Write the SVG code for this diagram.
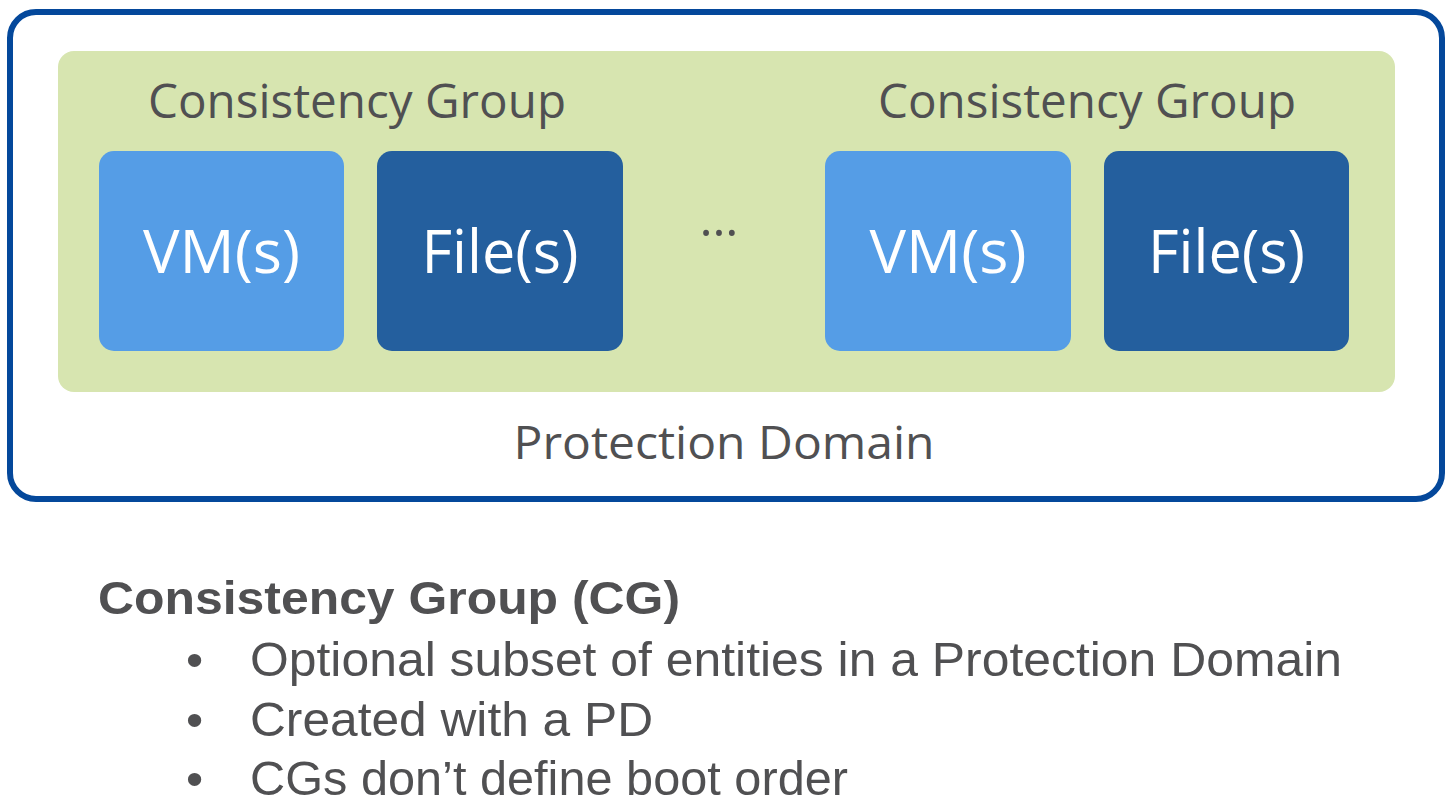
<svg xmlns="http://www.w3.org/2000/svg" width="1455" height="808" viewBox="0 0 1455 808">
<style>
.lbl{font-family:"Open Sans","Noto Sans","DejaVu Sans",sans-serif;fill:#505052}
.box{font-family:"Open Sans","Noto Sans","DejaVu Sans",sans-serif;fill:#ffffff;font-size:60px}
.vm{fill:#559DE6}
.file{fill:#245F9E}
.txt{font-family:"Liberation Sans",Arial,sans-serif;fill:#505052}
</style>
<rect width="1455" height="808" fill="#ffffff"/>
<g id="protection-domain">
<rect x="10" y="12" width="1432" height="487" rx="26" fill="#ffffff" stroke="#04489B" stroke-width="6"/>
<text class="lbl" x="724" y="459" font-size="46" text-anchor="middle" textLength="421" lengthAdjust="spacingAndGlyphs">Protection Domain</text>
</g>
<g id="cg-container">
<rect x="58" y="51" width="1337" height="341" rx="16" fill="#D7E5B0"/>
</g>
<g id="cg1">
<text class="lbl" x="148" y="118" font-size="48" textLength="418" lengthAdjust="spacingAndGlyphs">Consistency Group</text>
</g>
<g id="vm1">
<rect class="vm" x="99" y="151" width="245" height="200" rx="15"/>
<text class="box" x="221.5" y="273" text-anchor="middle" textLength="157" lengthAdjust="spacingAndGlyphs">VM(s)</text>
</g>
<g id="file1">
<rect class="file" x="377" y="151" width="246" height="200" rx="15"/>
<text class="box" x="500" y="273" text-anchor="middle" textLength="157" lengthAdjust="spacingAndGlyphs">File(s)</text>
</g>
<g id="ellipsis">
<text class="lbl" x="719" y="236" font-size="50" text-anchor="middle">…</text>
</g>
<g id="cg2">
<text class="lbl" x="878" y="118" font-size="48" textLength="418" lengthAdjust="spacingAndGlyphs">Consistency Group</text>
</g>
<g id="vm2">
<rect class="vm" x="825" y="151" width="246" height="200" rx="15"/>
<text class="box" x="948" y="273" text-anchor="middle" textLength="157" lengthAdjust="spacingAndGlyphs">VM(s)</text>
</g>
<g id="file2">
<rect class="file" x="1104" y="151" width="245" height="200" rx="15"/>
<text class="box" x="1226.5" y="273" text-anchor="middle" textLength="157" lengthAdjust="spacingAndGlyphs">File(s)</text>
</g>
<g id="connectors"></g>
<g id="notes">
<text class="txt" x="98" y="614" font-size="47" font-weight="bold" textLength="582" lengthAdjust="spacingAndGlyphs">Consistency Group (CG)</text>
<text class="txt" x="186" y="676" font-size="49">•</text>
<text class="txt" x="250" y="676" font-size="49" textLength="1092" lengthAdjust="spacingAndGlyphs">Optional subset of entities in a Protection Domain</text>
<text class="txt" x="186" y="736" font-size="49">•</text>
<text class="txt" x="250" y="736" font-size="49" textLength="403" lengthAdjust="spacingAndGlyphs">Created with a PD</text>
<text class="txt" x="186" y="795" font-size="49">•</text>
<text class="txt" x="250" y="795" font-size="49" textLength="598" lengthAdjust="spacingAndGlyphs">CGs don’t define boot order</text>
</g>
</svg>
